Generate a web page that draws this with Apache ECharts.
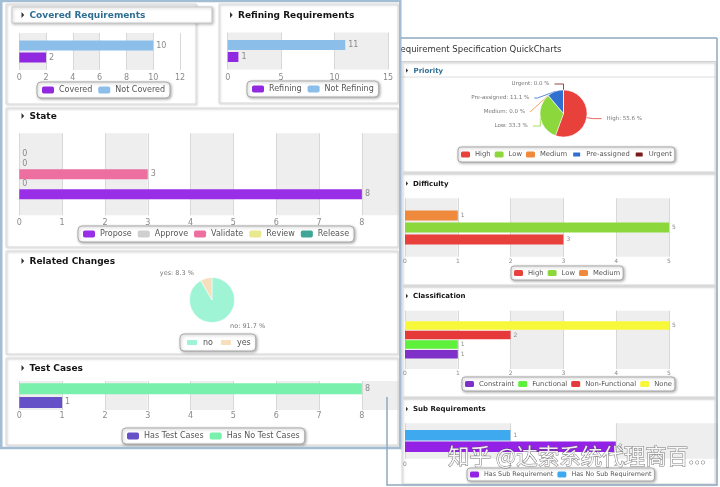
<!DOCTYPE html>
<html><head><meta charset="utf-8">
<script src="https://cdn.jsdelivr.net/npm/echarts@6/dist/echarts.min.js"></script>
<style>html,body{margin:0;padding:0;background:#fff}#c{width:720px;height:487px}</style>
</head><body><div id="c"></div>
<script>
// ---------- data ----------
const coveredNames = ['Covered', 'Not Covered'];
const coveredValues = [2, 10];
const refiningNames = ['Refining', 'Not Refining'];
const refiningValues = [1, 11];
const stateNames = ['Propose', 'Approve', 'Validate', 'Review', 'Release'];
const stateValues = [8, 0, 3, 0, 0];
const relatedNames = ['no', 'yes'];
const relatedValues = [11, 1];
const testNames = ['Has Test Cases', 'Has No Test Cases'];
const testValues = [1, 8];
const priorityNames = ['High', 'Low', 'Medium', 'Pre-assigned', 'Urgent'];
const priorityValues = [5, 3, 0, 1, 0];
const difficultyNames = ['High', 'Low', 'Medium'];
const difficultyValues = [3, 5, 1];
const classNames = ['Constraint', 'Functional', 'Non-Functional', 'None'];
const classValues = [1, 1, 2, 5];
const subNames = ['Has Sub Requirement', 'Has No Sub Requirement'];
const subValues = [2, 1];
const panelTitles = ['Covered Requirements', 'Refining Requirements', 'State', 'Related Changes', 'Test Cases'];
const rightTitles = ['Priority', 'Difficulty', 'Classification', 'Sub Requirements'];
const windowTitle = 'equirement Specification QuickCharts';
const watermark = '知乎 @达索系统代理商百...';

// ---------- styles ----------
const FONT = 'DejaVu Sans';
const colorOf = {
  'Covered': '#9129e0', 'Not Covered': '#8cbeea',
  'Refining': '#9129e0', 'Not Refining': '#8cbeea',
  'Propose': '#982ee6', 'Approve': '#cfcfcf', 'Validate': '#ec6fa0', 'Review': '#e8e88c', 'Release': '#3fa596',
  'no': '#a0f4d6', 'yes': '#f7dfbe',
  'Has Test Cases': '#6650c8', 'Has No Test Cases': '#79f0ac',
  'High': '#e8413c', 'Low': '#8cd83c', 'Medium': '#ef8a3c', 'Pre-assigned': '#2f6fd0', 'Urgent': '#7a1a1a',
  'Constraint': '#7e30c8', 'Functional': '#5ef03a', 'Non-Functional': '#e63a3a', 'None': '#f8f83a',
  'Has Sub Requirement': '#9422e6', 'Has No Sub Requirement': '#3fa9f0'
};

const barPanels = [
  {names: coveredNames, values: coveredValues, grid: {left: 19.3, top: 33, width: 160.7, height: 37}, max: 12, interval: 2, barWidth: 10, barGap: '20%', font: 8, margin: 4},
  {names: refiningNames, values: refiningValues, grid: {left: 227.7, top: 32.5, width: 160.3, height: 37}, max: 15, interval: 5, barWidth: 10, barGap: '20%', font: 8, margin: 4},
  {names: stateNames, values: stateValues, grid: {left: 19.3, top: 133.3, width: 380.7, height: 82}, max: 8.89, interval: 1, barWidth: 10, barGap: '0%', font: 8, margin: 3.5},
  {names: testNames, values: testValues, grid: {left: 19.3, top: 381, width: 380.7, height: 29}, max: 8.89, interval: 1, barWidth: 11, barGap: '25%', font: 8, margin: 2},
  {names: difficultyNames, values: difficultyValues, grid: {left: 405, top: 198.3, width: 264, height: 58.4}, max: 5, interval: 1, barWidth: 10, barGap: '20%', font: 6, margin: 1.5},
  {names: classNames, values: classValues, grid: {left: 405, top: 310.7, width: 264, height: 58.3}, max: 5, interval: 1, barWidth: 8.5, barGap: '12%', font: 6, margin: 1.5},
  {names: subNames, values: subValues, grid: {left: 405, top: 423.3, width: 312.3, height: 35.5}, max: 2.96, interval: 1, barWidth: 10.5, barGap: '10%', font: 6, margin: 2.5}
];

const grid = [], xAxis = [], yAxis = [], series = [];
barPanels.forEach((p, k) => {
  grid.push(Object.assign({containLabel: false}, p.grid));
  xAxis.push({
    gridIndex: k, type: 'value', min: 0, max: p.max, interval: p.interval,
    axisLine: {show: false}, axisTick: {show: false},
    splitLine: {show: true, lineStyle: {color: '#d8d8d8', width: 1}},
    splitArea: {show: true, areaStyle: {color: ['#eeeeee', '#ffffff']}},
    axisLabel: {fontSize: p.font, color: '#8a8a8a', fontFamily: FONT, margin: p.margin,
      formatter: v => (Math.abs(v - Math.round(v)) < 1e-9 ? String(Math.round(v)) : '')}
  });
  yAxis.push({gridIndex: k, type: 'category', data: [''], show: false});
  // first legend entry is drawn lowest in the group: add series in reverse order
  for (let i = p.names.length - 1; i >= 0; i--) {
    const n = p.names[i];
    series.push({
      type: 'bar', name: n, xAxisIndex: k, yAxisIndex: k, data: [p.values[i]],
      barWidth: p.barWidth, barGap: p.barGap, silent: true,
      itemStyle: {color: colorOf[n]},
      label: {show: true, position: 'right', distance: 3, fontSize: p.font, color: '#8a8a8a', fontFamily: FONT}
    });
  }
});

const pctLabel = p => p.name + ': ' + p.percent.toFixed(1) + ' %';
series.push({
  type: 'pie', name: 'Related Changes', center: [212, 300], radius: 22.5, startAngle: 90, clockwise: true, silent: true,
  data: relatedNames.map((n, i) => ({name: n, value: relatedValues[i], itemStyle: {color: colorOf[n]}})),
  itemStyle: {borderColor: '#fff', borderWidth: 0.5},
  label: {formatter: pctLabel, fontSize: 6.5, color: '#777', fontFamily: FONT},
  labelLine: {show: false, length: 5, length2: 6}
});
series.push({
  type: 'pie', name: 'Priority', center: [563.5, 113.5], radius: 23.5, startAngle: 90, clockwise: true, silent: true,
  data: priorityNames.map((n, i) => ({name: n, value: priorityValues[i], itemStyle: {color: colorOf[n]}})),
  itemStyle: {borderColor: '#fff', borderWidth: 0.5},
  label: {formatter: pctLabel, fontSize: 5.5, lineHeight: 12, color: '#777', fontFamily: FONT},
  labelLine: {show: true, length: 6, length2: 9, lineStyle: {width: 0.8}}
});

const legBase = {
  orient: 'horizontal', selectedMode: false, icon: 'roundRect',
  borderColor: '#a8a8a8', borderWidth: 1, backgroundColor: '#fff',
  shadowBlur: 3, shadowColor: 'rgba(0,0,0,0.3)', shadowOffsetX: 1, shadowOffsetY: 1
};
const legL = Object.assign({}, legBase, {itemWidth: 12, itemHeight: 7, itemGap: 6, padding: [4, 5], borderRadius: 4,
  textStyle: {fontSize: 8, color: '#555', fontFamily: FONT}});
const legR = Object.assign({}, legBase, {itemWidth: 9, itemHeight: 6, itemGap: 4, padding: [3.5, 3], borderRadius: 3,
  textStyle: {fontSize: 6.8, color: '#555', fontFamily: FONT}});
const legend = [
  Object.assign({}, legL, {data: coveredNames, left: 37, top: 82}),
  Object.assign({}, legL, {data: refiningNames, left: 247, top: 81}),
  Object.assign({}, legL, {data: stateNames, left: 78, top: 226}),
  Object.assign({}, legL, {data: relatedNames, left: 180, top: 334}),
  Object.assign({}, legL, {data: testNames, left: 122, top: 428}),
  Object.assign({}, legR, {data: priorityNames, left: 458, top: 147}),
  Object.assign({}, legR, {data: difficultyNames, left: 511, top: 266}),
  Object.assign({}, legR, {data: classNames, left: 462, top: 377}),
  Object.assign({}, legR, {data: subNames, left: 467, top: 468, textStyle: {fontSize: 6.4, color: '#555', fontFamily: FONT}})
];

// ---------- decorations ----------
const panelStyle = {fill: null, stroke: '#dadada', lineWidth: 1, shadowBlur: 2, shadowColor: 'rgba(0,0,0,0.25)', shadowOffsetX: 1, shadowOffsetY: 1};
const rect = (x, y, w, h, style, z) => ({type: 'rect', shape: {x, y, width: w, height: h}, style: Object.assign({}, style), z: z || 1, silent: true});
const line = (x1, y1, x2, y2, stroke, w, z) => ({type: 'line', shape: {x1, y1, x2, y2}, style: {stroke, lineWidth: w}, z: z || 1, silent: true});
const tri = (x, y, s) => ({type: 'polygon', shape: {points: [[x, y - s], [x + s * 0.9, y], [x, y + s]]}, style: {fill: '#333'}, z: 5, silent: true});
const txt = (x, y, t, font, fill) => ({type: 'text', x, y, style: {text: t, font, fill, verticalAlign: 'middle', textAlign: 'left'}, z: 6, silent: true});

const leftHead = 'bold 9px "DejaVu Sans"';
const rightHead = 'bold 7px "DejaVu Sans"';
const graphic = [
  rect(6, 4, 190, 100, panelStyle),
  rect(219, 4, 179, 99, panelStyle),
  rect(6, 108, 392, 139, panelStyle),
  rect(6, 251, 392, 103, panelStyle),
  rect(6, 358, 392, 87, panelStyle),
  rect(12, 7, 200, 16, {fill: '#fff', stroke: '#c8c8c8', lineWidth: 1, shadowBlur: 3, shadowColor: 'rgba(0,0,0,0.25)', shadowOffsetX: 1, shadowOffsetY: 1}, 2),
  rect(1.25, 1, 399, 447, {fill: null, stroke: '#a3bdd4', lineWidth: 2.5}, 8),
  line(400, 61.5, 716, 61.5, '#cfcfcf', 1),
  line(400, 77, 716, 77, '#dcdcdc', 1),
  rect(402, 62, 313, 110, panelStyle),
  rect(402, 173, 313, 112, panelStyle),
  rect(402, 286, 313, 111, panelStyle),
  rect(402, 398, 313, 86, panelStyle),
  line(401, 38, 717, 38, '#8ea8c0', 1.5, 8),
  line(717, 38, 717, 485, '#8ea8c0', 1.5, 8),
  line(387, 485, 717.7, 485, '#8ea8c0', 1.5, 8),
  line(387, 397, 387, 485.7, '#8ea8c0', 1.5, 8),
  tri(21.5, 15, 3), txt(29.5, 15.5, panelTitles[0], leftHead, '#2f6f94'),
  tri(230, 15, 3), txt(238, 15.5, panelTitles[1], leftHead, '#151515'),
  tri(21.5, 116, 3), txt(29.5, 116.5, panelTitles[2], leftHead, '#151515'),
  tri(21.5, 261, 3), txt(29.5, 261.5, panelTitles[3], leftHead, '#151515'),
  tri(21.5, 368, 3), txt(29.5, 368.5, panelTitles[4], leftHead, '#151515'),
  txt(400.5, 49.5, windowTitle, '8.5px "DejaVu Sans"', '#333'),
  tri(406, 70.5, 2.3), txt(413.5, 71, rightTitles[0], rightHead, '#2f6f94'),
  tri(406, 183.5, 2.3), txt(413, 184, rightTitles[1], rightHead, '#151515'),
  tri(406, 296, 2.3), txt(413, 296.5, rightTitles[2], rightHead, '#151515'),
  tri(406, 409, 2.3), txt(413, 409.5, rightTitles[3], rightHead, '#151515'),
  {type: 'text', x: 448, y: 456, z: 100, silent: true,
   style: {text: watermark, font: '21.5px "Noto Sans CJK SC"', fill: 'rgba(255,255,255,0.9)', stroke: 'rgba(80,80,80,0.75)', lineWidth: 1, verticalAlign: 'middle'}}
];

const chart = echarts.init(document.getElementById('c'), null, {renderer: 'canvas'});
chart.setOption({
  animation: false,
  backgroundColor: '#fff',
  textStyle: {fontFamily: FONT},
  grid, xAxis, yAxis, series, legend, graphic
});
</script>
</body></html>
